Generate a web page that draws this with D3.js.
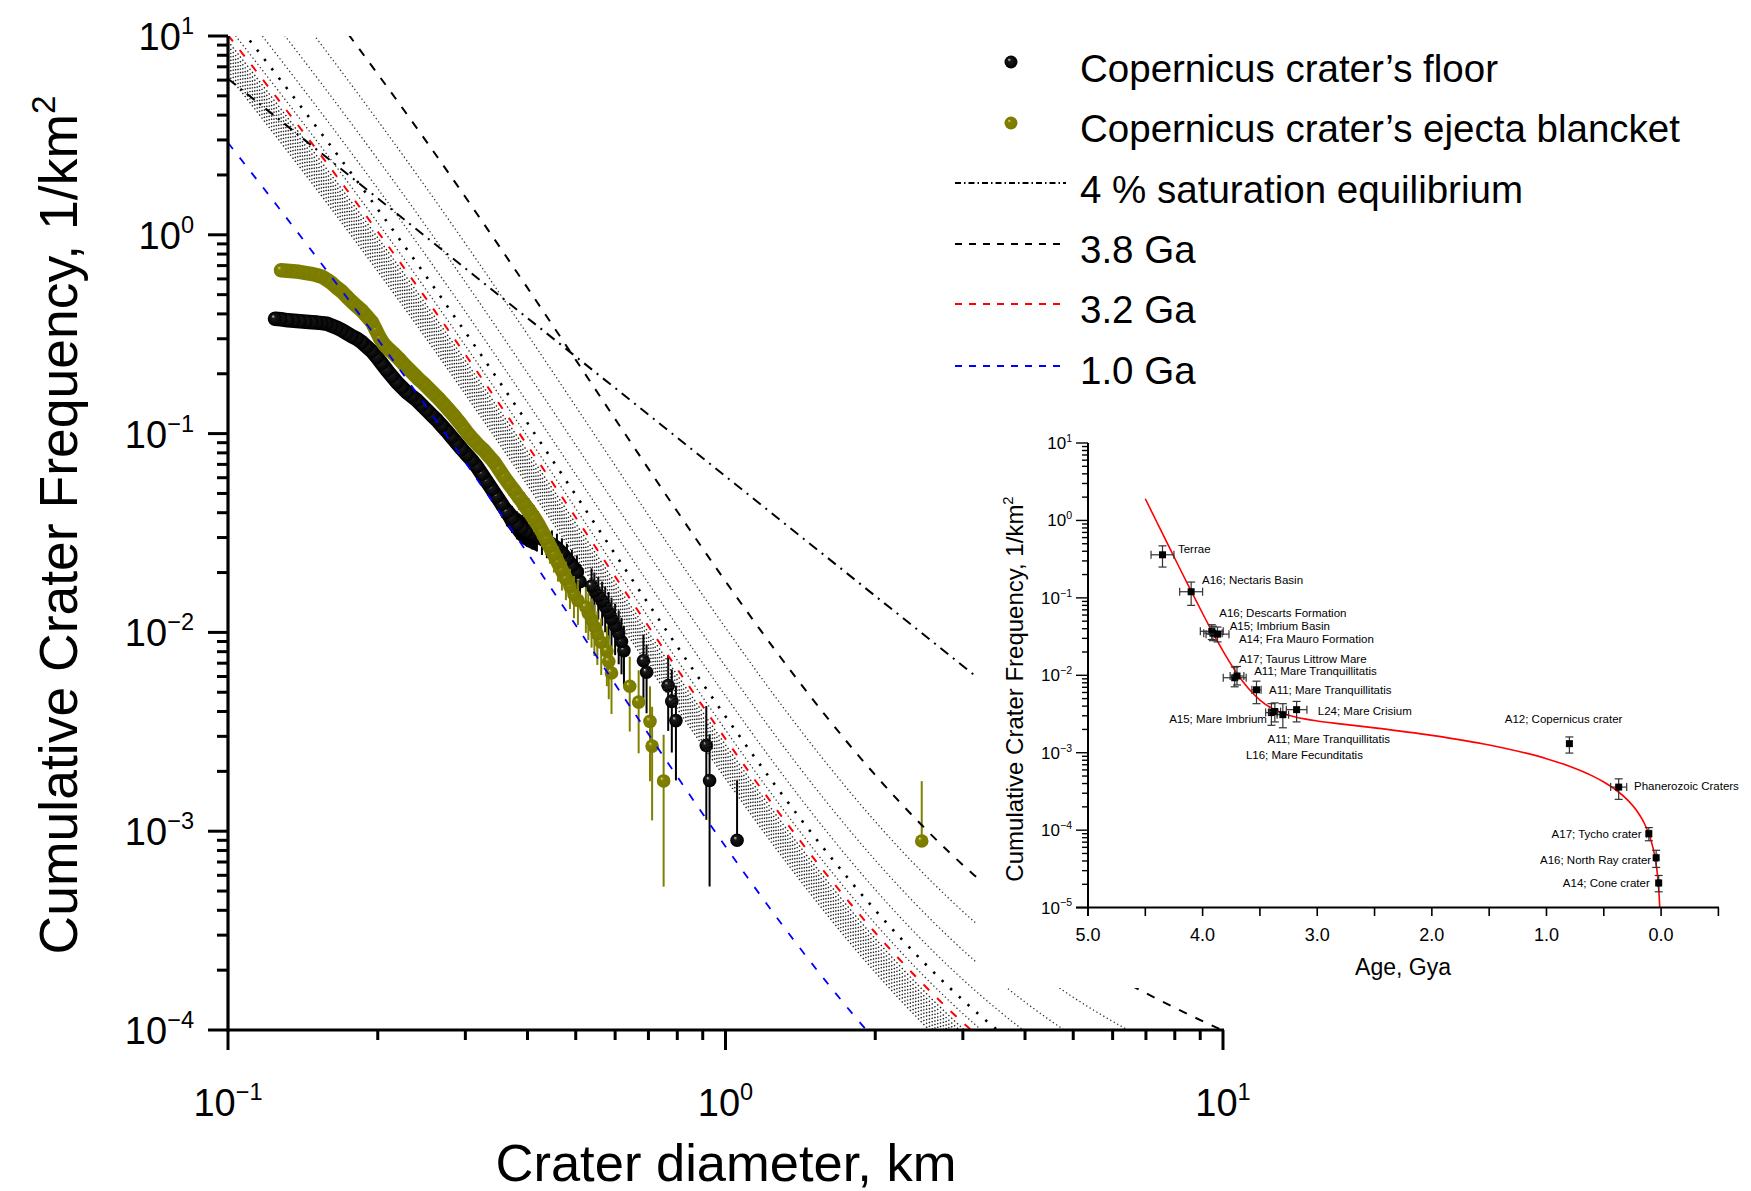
<!DOCTYPE html>
<html><head><meta charset="utf-8">
<script src="https://cdn.jsdelivr.net/npm/d3@7"></script>
<style>
body{margin:0;background:#fff;}
svg{display:block;font-family:"Liberation Sans",Arial,Helvetica,sans-serif;}
</style></head><body>
<svg id="chart" width="1751" height="1191"></svg>
<script>
// ---------------- DATA ----------------
// Copernicus crater floor: cumulative frequency (1/km^2) vs diameter (km)
const floorD = [0.1243,0.1278,0.1320,0.1357,0.1395,0.1435,0.1475,0.1510,0.1545,0.1581,0.1618,0.1656,0.1695,0.1734,0.1775,0.1816,0.1859,0.1902,0.1947,0.1993,0.2039,0.2087,0.2136,0.2186,0.2237,0.2289,0.2343,0.2398,0.2454,0.2512,0.2570,0.2631,0.2692,0.2755,0.2819,0.2885,0.2953,0.3022,0.3093,0.3165,0.3239,0.3315,0.3393,0.3472,0.3553,0.3636,0.3722,0.3809,0.3898,0.3990,0.4083,0.4178,0.4276,0.4376,0.4478,0.4583,0.4690,0.4800,0.4912,0.5027,
  0.510,0.538,0.545,0.555,0.565,0.573,0.582,0.590,0.600,0.610,0.618,0.625,0.684,0.694,0.767,0.780,0.795,0.915,0.929,1.055];
const floorN = [0.378,0.3758,0.3714,0.3693,0.3671,0.3650,0.3630,0.3617,0.3596,0.3567,0.3485,0.3405,0.3308,0.3195,0.3086,0.2998,0.2879,0.2733,0.2594,0.2419,0.2245,0.2082,0.1942,0.1811,0.1709,0.1613,0.1540,0.1471,0.1388,0.1310,0.1236,0.1167,0.1094,0.1027,0.0958,0.0894,0.0834,0.0782,0.0734,0.0681,0.0624,0.0572,0.0525,0.0481,0.0441,0.0402,0.0375,0.0350,0.0334,0.0323,0.0315,0.0308,0.0297,0.0287,0.0276,0.0265,0.0250,0.0233,0.0216,0.0201,
  0.0180,0.0171,0.0162,0.0153,0.0144,0.0135,0.0126,0.0117,0.0108,0.0099,0.0090,0.0081,0.0072,0.0063,0.0054,0.0045,0.0036,0.0027,0.0018,0.0009];
const floorArea = 1111; // km^2, counting area (Poisson error bars)

// Copernicus crater ejecta blanket
const ejectaD = [0.1278,0.1314,0.1351,0.1389,0.1428,0.1468,0.1510,0.1545,0.1581,0.1618,0.1656,0.1695,0.1734,0.1775,0.1816,0.1859,0.1902,0.1947,0.1984,0.2021,0.2059,0.2107,0.2156,0.2207,0.2258,0.2311,0.2365,0.2420,0.2477,0.2535,0.2594,0.2655,0.2717,0.2780,0.2846,0.2912,0.2980,0.3050,0.3121,0.3195,0.3269,0.3346,0.3424,0.3504,0.3587,0.3670,0.3757,0.3844,0.3936,0.4027,0.4121,0.4198,0.4276,0.4356,0.4437,0.4520,0.4605,0.4690,0.4778,0.4868,0.4959,0.5051,
  0.524,0.530,0.538,0.545,0.5525,0.5626,0.5775,0.5826,0.590,0.642,0.669,0.705,0.712,0.751,2.48];
const ejectaN = [0.6630,0.6592,0.6554,0.6516,0.6441,0.6367,0.6257,0.6149,0.5939,0.5702,0.5413,0.5168,0.4877,0.4603,0.4368,0.4147,0.3890,0.3630,0.3308,0.3016,0.2813,0.2655,0.2519,0.2377,0.2232,0.2106,0.1987,0.1875,0.1780,0.1680,0.1586,0.1496,0.1404,0.1317,0.1229,0.1147,0.1063,0.0986,0.0925,0.0868,0.0824,0.0769,0.0721,0.0661,0.0606,0.0559,0.0519,0.0478,0.0444,0.0411,0.0379,0.0352,0.0323,0.0296,0.0271,0.0247,0.0225,0.0205,0.0186,0.0170,0.0155,0.0145,
  0.0134,0.0125,0.0116,0.0107,0.00982,0.00893,0.00804,0.00714,0.00625,0.00536,0.00446,0.00357,0.00268,0.00179,0.000893];
const ejectaArea = 1120;

// production-function shape (isochron at unit scale)
const pfDiam = [0.1,0.1259,0.1585,0.1995,0.2512,0.3162,0.3981,0.5012,0.6310,0.7943,1,1.259,1.585,1.995,2.512,3.162,3.981,5.012,6.310,7.943,10];
const pfShape = [2.834,1.353,0.6366,0.2934,0.1319,0.05788,0.02486,0.01052,0.004434,0.001883,0.0008173,0.0003677,0.0001738,0.00008725,0.00004692,0.00002716,0.00001691,0.00001127,0.000007969,0.000005898,0.000004493];
// isochron ages and their vertical scale relative to the shape
const isoAges  = ["1.0","2.2","2.3","2.4","2.5","2.6","2.7","2.8","2.9","3.0","3.1","3.2","3.3","3.4","3.5","3.6","3.7","3.8"];
const isoScale = [1.025,2.256,2.359,2.462,2.566,2.670,2.777,2.889,3.009,3.147,3.321,3.566,3.954,4.625,5.867,8.248,12.907,22.12];

// 4 % saturation equilibrium (straight line)
const satD = [0.1, 10];
const satN = [6.1, 0.00061];

// legend
const legendLabels = ["Copernicus crater\u2019s floor","Copernicus crater\u2019s ejecta blancket","4 % saturation equilibrium","3.8 Ga","3.2 Ga","1.0 Ga"];

// axis ticks
const xMajor = [0.1, 1, 10];
const yMajor = [1e-4, 1e-3, 1e-2, 1e-1, 1, 10];
const xTickExp = ["\u22121","0","1"];
const yTickExp = ["\u22124","\u22123","\u22122","\u22121","0","1"];

// inset: chronology
const chronAge = [4.5,4.45,4.4,4.3,4.2,4.1,4.0,3.9,3.8,3.7,3.6,3.5,3.4,3.3,3.2,3.1,3.0,2.8,2.5,2.0,1.5,1.0,0.8,0.6,0.5,0.4,0.3,0.2,0.15,0.1,0.07,0.05,0.03,0.02,0.015,0.012];
const chronN = [1.906,1.349,0.955,0.479,0.2413,0.1224,0.0628,0.0330,0.01808,0.01055,0.00674,0.004795,0.003780,0.003231,0.002915,0.002714,0.002572,0.002361,0.002097,0.001676,0.001257,0.000838,0.0006704,0.0005028,0.000419,0.0003352,0.0002514,0.0001676,0.0001257,0.0000838,0.00005866,0.0000419,0.00002514,0.00001676,0.00001257,0.00001006];

const insetNames = ["Terrae","A16; Nectaris Basin","A16; Descarts Formation","A15; Imbrium Basin","A14; Fra Mauro Formation","A17; Taurus Littrow Mare","A11; Mare Tranquillitatis","A11; Mare Tranquillitatis","A15; Mare Imbrium","L16; Mare Fecunditatis","A11; Mare Tranquillitatis","L24; Mare Crisium","A12; Copernicus crater","Phanerozoic Craters","A17; Tycho crater","A16; North Ray crater","A14; Cone crater"];
const insetAge    = [4.35,4.10,3.92,3.91,3.87,3.72,3.70,3.53,3.40,3.37,3.30,3.18,0.80,0.37,0.107,0.043,0.021];
const insetAgeErr = [0.10,0.10,0.10,0.08,0.10,0.10,0.06,0.04,0.05,0.05,0.05,0.09,0.0,0.07,0.02,0.01,0.01];
const insetN      = [0.36,0.12,0.037,0.035,0.034,0.0093,0.0098,0.0065,0.0033,0.0034,0.0031,0.0036,0.00131,0.00036,0.00009,0.000044,0.0000208];
const insetNLow   = [0.25,0.08,0.029,0.028,0.027,0.0071,0.0075,0.0043,0.00226,0.0025,0.0021,0.0025,0.00099,0.00025,0.000073,0.000033,0.000016];
const insetNHigh  = [0.47,0.16,0.045,0.043,0.042,0.0128,0.013,0.0084,0.0043,0.0044,0.0043,0.0046,0.0016,0.00046,0.000108,0.000055,0.000026];
// label anchor positions (inset data coordinates)
const labelAge  = [4.215,4.005,3.855,3.764,3.683,3.683,3.550,3.421,4.292,3.622,3.434,2.995,1.364,0.236,0.171,0.0864,0.0987];
const labelN    = [0.4325,0.1687,0.0646,0.04335,0.02979,0.01622,0.01135,0.00653,0.0027,0.000946,0.00152,0.00343,0.00276,0.000368,0.0000902,0.0000408,0.0000208];
const labelEnd  = [0,0,0,0,0,0,0,0,0,0,0,0,0,0,1,1,1];
const insetXTicks = [5.0,4.5,4.0,3.5,3.0,2.5,2.0,1.5,1.0,0.5,0.0,-0.5];
const insetXLabels = ["5.0","4.0","3.0","2.0","1.0","0.0"];
const insetYMajor = [1e-5,1e-4,1e-3,1e-2,1e-1,1,10];
const insetYExp = ["\u22125","\u22124","\u22123","\u22122","\u22121","0","1"];

// ---------------- DRAW ----------------
const svg = d3.select("#chart");
const defs = svg.append("defs");
const x = d3.scaleLog().domain([0.1, 10]).range([228, 1223]);
const y = d3.scaleLog().domain([1e-4, 10]).range([1030, 36]);

defs.append("clipPath").attr("id","plotClip").append("rect")
  .attr("x",228).attr("y",36).attr("width",995).attr("height",994);

function ballGrad(id, stops){
  const g = defs.append("radialGradient").attr("id",id)
    .attr("cx","50%").attr("cy","50%").attr("r","50%").attr("fx","34%").attr("fy","30%");
  stops.forEach(s => g.append("stop").attr("offset",s[0]).attr("stop-color",s[1]));
}
ballGrad("gBlack", [["0%","#f2f2f2"],["9%","#9a9a9a"],["26%","#1a1a1a"],["100%","#000"]]);
ballGrad("gOlive", [["0%","#f8f8d8"],["10%","#b4b44a"],["28%","#808000"],["100%","#7a7a00"]]);

function sup(sel, base, exp, fs){
  sel.append("tspan").text(base);
  sel.append("tspan").attr("font-size", fs*0.62).attr("dy", -fs*0.42).text(exp);
}

// ---- data series ----
function drawSeries(Ds, Ns, area, color, grad){
  const pts = Ds.map((d,i)=>{
    const N = Ns[i], n = N*area, err = Math.sqrt(N/area);
    return {D:d, N:N, hi:N+err, lo: n > 1.5 ? N-err : null};
  });
  const g = svg.append("g").attr("clip-path","url(#plotClip)");
  // envelope of the closely packed error bars (many craters per pixel)
  const dense = pts.filter(p => p.N*area >= 33);
  g.append("path").attr("d", d3.area().x(p=>x(p.D)).y0(p=>y(p.lo)).y1(p=>y(p.hi))(dense))
    .attr("fill",color);
  pts.forEach(p=>{
    const yTop = y(p.hi), yBot = p.lo ? y(p.lo) : y(p.N);
    g.append("line").attr("x1",x(p.D)).attr("x2",x(p.D)).attr("y1",yTop).attr("y2",Math.min(yBot,1030))
      .attr("stroke",color).attr("stroke-width",2);
  });
  // overlapping markers of the dense part
  g.append("path").attr("d", d3.line().x(p=>x(p.D)).y(p=>y(p.N))(pts.filter(p=>p.N*area >= 20)))
    .attr("fill","none").attr("stroke",color).attr("stroke-width",14.5)
    .attr("stroke-linejoin","round").attr("stroke-linecap","round");
  pts.slice().reverse().forEach(p=>{
    g.append("circle").attr("cx",x(p.D)).attr("cy",y(p.N)).attr("r",6.8).attr("fill",`url(#${grad})`);
  });
}
drawSeries(floorD, floorN, floorArea, "#000", "gBlack");
drawSeries(ejectaD, ejectaN, ejectaArea, "#808000", "gOlive");

// ---- isochrons ----
function isoStyle(age){
  if (age === "1.0") return {c:"#0000ff", w:1.8, d:"8 11"};
  if (age === "3.2") return {c:"#ff0000", w:2, d:"8 11"};
  if (age === "3.8") return {c:"#000", w:2, d:"8.5 9.5"};
  if (age === "3.4") return {c:"#000", w:2.6, d:"2.4 9.4"};
  if (["3.3","3.5","3.6","3.7"].includes(age)) return {c:"#333", w:1.3, d:"1.3 2.7"};
  return {c:"#222", w:1.4, d:"1.4 2.5"};
}
const isoLine = d3.line().x(d=>d[0]).y(d=>d[1]).curve(d3.curveMonotoneX);
const gIso = svg.append("g").attr("clip-path","url(#plotClip)");
isoAges.forEach((age,k)=>{
  const st = isoStyle(age);
  const pts = pfDiam.map((d,i)=>[x(d), y(pfShape[i]*isoScale[k])]);
  gIso.append("path").attr("d", isoLine(pts)).attr("fill","none")
    .attr("stroke",st.c).attr("stroke-width",st.w).attr("stroke-dasharray",st.d);
});
gIso.append("path").attr("d", d3.line()(satD.map((d,i)=>[x(d), y(satN[i])])))
  .attr("fill","none").attr("stroke","#000").attr("stroke-width",2).attr("stroke-dasharray","10 6 2 6");

// ---- white panel behind legend / inset ----
svg.append("rect").attr("x",977).attr("y",0).attr("width",774).attr("height",988).attr("fill","#fff");

// ---- main axes ----
const gAx = svg.append("g").attr("stroke","#000");
gAx.append("line").attr("x1",228).attr("x2",228).attr("y1",36).attr("y2",1031.5).attr("stroke-width",3.2);
gAx.append("line").attr("x1",226.5).attr("x2",1224).attr("y1",1030).attr("y2",1030).attr("stroke-width",3.2);
for (let e=-4; e<1; e++){
  for (let m=1; m<10; m++){
    const v = m*Math.pow(10,e);
    gAx.append("line").attr("x1",228).attr("x2",228-(m===1?20:11)).attr("y1",y(v)).attr("y2",y(v)).attr("stroke-width",3);
  }
}
gAx.append("line").attr("x1",228).attr("x2",208).attr("y1",y(10)).attr("y2",y(10)).attr("stroke-width",3);
for (let e=-1; e<1; e++){
  for (let m=1; m<10; m++){
    const v = m*Math.pow(10,e);
    gAx.append("line").attr("x1",x(v)).attr("x2",x(v)).attr("y1",1030).attr("y2",1030+(m===1?20:10)).attr("stroke-width",3);
  }
}
gAx.append("line").attr("x1",x(10)).attr("x2",x(10)).attr("y1",1030).attr("y2",1050).attr("stroke-width",3);

const tfs = 38;
yMajor.forEach((v,i)=>{
  const t = svg.append("text").attr("x",194).attr("y",y(v)+14).attr("text-anchor","end").attr("font-size",tfs);
  sup(t,"10",yTickExp[i],tfs);
});
xMajor.forEach((v,i)=>{
  const t = svg.append("text").attr("x",x(v)).attr("y",1116).attr("text-anchor","middle").attr("font-size",tfs);
  sup(t,"10",xTickExp[i],tfs);
});
svg.append("text").attr("x",726).attr("y",1181).attr("text-anchor","middle").attr("font-size",52.5)
  .text("Crater diameter, km");
{
  const t = svg.append("text").attr("transform","translate(77,525) rotate(-90)").attr("text-anchor","middle").attr("font-size",53.5);
  sup(t,"Cumulative Crater Frequency, 1/km","2",53.5);
}

// ---- legend ----
const legY = [62,123,183,244,304,366];
const legBase = [82,142,203,263,323,384];
svg.append("circle").attr("cx",1011).attr("cy",legY[0]).attr("r",6.5).attr("fill","url(#gBlack)");
svg.append("circle").attr("cx",1011).attr("cy",legY[1]).attr("r",6.5).attr("fill","url(#gOlive)");
const legLineStyle = [null,null,{c:"#000",d:"6 3 1.5 3"},{c:"#000",d:"7 7"},{c:"#ff0000",d:"7 7"},{c:"#0000ff",d:"7 7"}];
legendLabels.forEach((lab,i)=>{
  const st = legLineStyle[i];
  if (st) svg.append("line").attr("x1",955).attr("x2",1066).attr("y1",legY[i]).attr("y2",legY[i])
    .attr("stroke",st.c).attr("stroke-width",2).attr("stroke-dasharray",st.d);
  svg.append("text").attr("x",1080).attr("y",legBase[i]).attr("font-size",38.5).text(lab);
});

// ---- inset ----
const xi = d3.scaleLinear().domain([5.0,-0.5]).range([1088,1718.4]);
const yi = d3.scaleLog().domain([1e-5,10]).range([907.6,443]);
const gi = svg.append("g");
const chronLine = d3.line().x(d=>d[0]).y(d=>d[1]).curve(d3.curveMonotoneX);
gi.append("path").attr("d", chronLine(chronAge.map((a,i)=>[xi(a), yi(chronN[i])])))
  .attr("fill","none").attr("stroke","#ff0000").attr("stroke-width",1.6);

insetAge.forEach((a,i)=>{
  const cx = xi(a), cy = yi(insetN[i]);
  const eg = gi.append("g").attr("stroke","#333").attr("stroke-width",1.2);
  const yt = yi(insetNHigh[i]), yb = yi(insetNLow[i]);
  eg.append("line").attr("x1",cx).attr("x2",cx).attr("y1",yt).attr("y2",yb);
  eg.append("line").attr("x1",cx-4).attr("x2",cx+4).attr("y1",yt).attr("y2",yt);
  eg.append("line").attr("x1",cx-4).attr("x2",cx+4).attr("y1",yb).attr("y2",yb);
  if (insetAgeErr[i] > 0){
    const xl = xi(a+insetAgeErr[i]), xr = xi(a-insetAgeErr[i]);
    eg.append("line").attr("x1",xl).attr("x2",xr).attr("y1",cy).attr("y2",cy);
    eg.append("line").attr("x1",xl).attr("x2",xl).attr("y1",cy-4).attr("y2",cy+4);
    eg.append("line").attr("x1",xr).attr("x2",xr).attr("y1",cy-4).attr("y2",cy+4);
  }
  gi.append("rect").attr("x",cx-3.5).attr("y",cy-3.5).attr("width",7).attr("height",7).attr("fill","#000");
});
insetNames.forEach((nm,i)=>{
  gi.append("text").attr("x",xi(labelAge[i])).attr("y",yi(labelN[i])+4)
    .attr("text-anchor", labelEnd[i] ? "end":"start").attr("font-size",11.5).text(nm);
});

// inset axes
const ga = svg.append("g").attr("stroke","#000");
ga.append("line").attr("x1",1088).attr("x2",1088).attr("y1",443).attr("y2",916).attr("stroke-width",2);
ga.append("line").attr("x1",1076).attr("x2",1719).attr("y1",907.6).attr("y2",907.6).attr("stroke-width",2);
insetXTicks.forEach(v=>{
  ga.append("line").attr("x1",xi(v)).attr("x2",xi(v)).attr("y1",907.6).attr("y2",916).attr("stroke-width",1.6);
});
for (let e=-5; e<1; e++){
  for (let m=1; m<10; m++){
    const v = m*Math.pow(10,e);
    ga.append("line").attr("x1",1088).attr("x2",1088-(m===1?12:6)).attr("y1",yi(v)).attr("y2",yi(v)).attr("stroke-width",1.4);
  }
}
ga.append("line").attr("x1",1088).attr("x2",1076).attr("y1",yi(10)).attr("y2",yi(10)).attr("stroke-width",1.4);
insetXLabels.forEach(l=>{
  svg.append("text").attr("x",xi(+l)).attr("y",941).attr("text-anchor","middle").attr("font-size",18).text(l);
});
insetYMajor.forEach((v,i)=>{
  const t = svg.append("text").attr("x",1072).attr("y",yi(v)+6).attr("text-anchor","end").attr("font-size",17);
  sup(t,"10",insetYExp[i],17);
});
svg.append("text").attr("x",1403).attr("y",975).attr("text-anchor","middle").attr("font-size",23).text("Age, Gya");
{
  const t = svg.append("text").attr("transform","translate(1023,689) rotate(-90)").attr("text-anchor","middle").attr("font-size",24);
  sup(t,"Cumulative Crater Frequency, 1/km","2",24);
}
</script>
</body></html>
